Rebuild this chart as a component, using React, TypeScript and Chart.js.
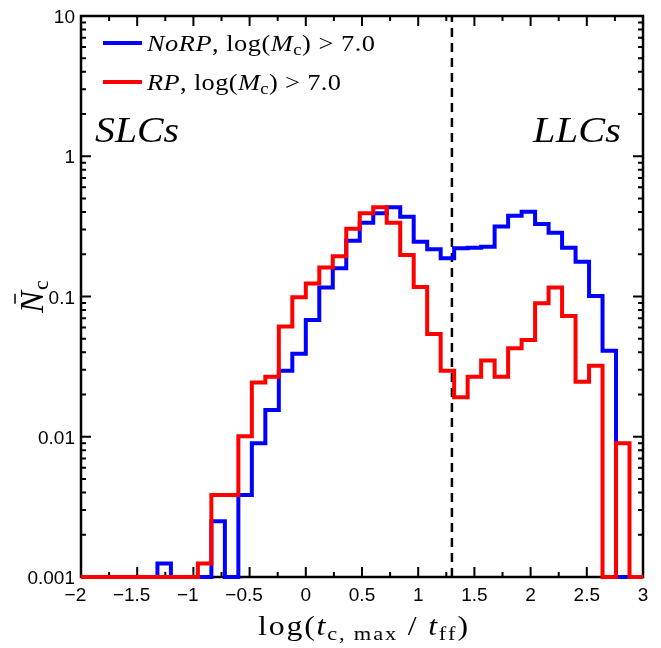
import React, { useEffect, useRef } from 'react';
import { Chart, registerables } from 'chart.js';

Chart.register(...registerables);

// ---------- data ----------
const BIN_LEFT_EDGES = [
  -2.04, -1.92, -1.8, -1.68, -1.56, -1.44, -1.32, -1.2, -1.08, -0.96, -0.84, -0.72, -0.6, -0.48,
  -0.36, -0.24, -0.12, 0, 0.12, 0.24, 0.36, 0.48, 0.6, 0.72, 0.84, 0.96, 1.08, 1.2, 1.32, 1.44,
  1.56, 1.68, 1.8, 1.92, 2.04, 2.16, 2.28, 2.4, 2.52, 2.64, 2.76, 2.88,
];
const LAST_BIN_RIGHT_EDGE = 3.0;

const NORP_VALUES = [
  0, 0, 0, 0, 0, 0, 0.00125, 0, 0, 0, 0.0025, 0, 0.00385, 0.009,
  0.0155, 0.0296, 0.039, 0.068, 0.116, 0.159, 0.25, 0.336, 0.392, 0.433, 0.371, 0.246, 0.217, 0.187, 0.221, 0.223,
  0.226, 0.315, 0.377, 0.402, 0.329, 0.285, 0.223, 0.177, 0.101, 0.041, 0, 0,
];
const RP_VALUES = [
  0, 0, 0, 0, 0, 0, 0, 0, 0, 0.00125, 0.00385, 0.00385, 0.0101, 0.0244,
  0.0268, 0.061, 0.0987, 0.124, 0.161, 0.194, 0.304, 0.392, 0.433, 0.336, 0.198, 0.117, 0.054, 0.0296, 0.0191, 0.0268,
  0.0349, 0.0268, 0.0427, 0.049, 0.0894, 0.116, 0.0726, 0.0247, 0.0321, 0, 0.009, 0,
];

const Y_FLOOR = 0.001;
const Y_CEIL = 10;
const X_MIN = -2;
const X_MAX = 3;
const DIVIDER_X = 1.3;

const X_TICKS = [-2, -1.5, -1, -0.5, 0, 0.5, 1, 1.5, 2, 2.5, 3];
const X_TICK_LABELS = ['−2', '−1.5', '−1', '−0.5', '0', '0.5', '1', '1.5', '2', '2.5', '3'];
const Y_TICKS = [0.001, 0.01, 0.1, 1, 10];
const Y_TICK_LABELS = ['0.001', '0.01', '0.1', '1', '10'];

const BLUE = '#0000ff';
const RED = '#ff0000';

// ---------- helpers ----------
type Seg = { t: string; f: string; dy?: number };

const SERIF = '"Liberation Serif", "Times New Roman", serif';
const SANS = '"Liberation Sans", Arial, sans-serif';

function drawRich(
  ctx: CanvasRenderingContext2D,
  segs: Seg[],
  x: number,
  y: number,
  align: 'left' | 'center' | 'right',
  targetWidth?: number,
  maxStretch = 1.1
) {
  const chars: { c: string; f: string; dy: number; w: number }[] = [];
  for (const s of segs) {
    ctx.font = s.f;
    for (const c of Array.from(s.t)) {
      chars.push({ c, f: s.f, dy: s.dy || 0, w: ctx.measureText(c).width });
    }
  }
  const natural = chars.reduce((a, b) => a + b.w, 0);
  let sx = 1;
  let track = 0;
  if (targetWidth) {
    sx = Math.min(targetWidth / natural, maxStretch);
    const rem = targetWidth - natural * sx;
    track = chars.length > 1 ? rem / (chars.length - 1) : 0;
  }
  const total = targetWidth || natural;
  let x0 = x;
  if (align === 'center') x0 = x - total / 2;
  else if (align === 'right') x0 = x - total;
  ctx.save();
  ctx.textAlign = 'left';
  ctx.textBaseline = 'alphabetic';
  let cx = x0;
  for (const ch of chars) {
    ctx.save();
    ctx.translate(cx, y + ch.dy);
    ctx.scale(sx, 1);
    ctx.font = ch.f;
    ctx.fillText(ch.c, 0, 0);
    ctx.restore();
    cx += ch.w * sx + track;
  }
  ctx.restore();
}

function histPoints(values: number[]) {
  const pts = BIN_LEFT_EDGES.map((x, i) => ({ x, y: Math.max(values[i], Y_FLOOR) }));
  pts.push({ x: LAST_BIN_RIGHT_EDGE, y: Math.max(values[values.length - 1], Y_FLOOR) });
  return pts;
}

const decorPlugin = {
  id: 'decor',
  beforeDatasetsDraw(chart: any) {
    const { ctx, chartArea } = chart;
    const xs = chart.scales.x;
    const ys = chart.scales.y;
    const { left, right, top, bottom } = chartArea;
    ctx.save();
    ctx.strokeStyle = '#000';
    ctx.lineWidth = 2.5;
    ctx.strokeRect(left, top, right - left, bottom - top);

    ctx.lineWidth = 2;
    const MAJ = 10;
    const MIN = 5;
    const xLine = (v: number, len: number) => {
      const p = xs.getPixelForValue(v);
      ctx.beginPath();
      ctx.moveTo(p, bottom);
      ctx.lineTo(p, bottom - len);
      ctx.moveTo(p, top);
      ctx.lineTo(p, top + len);
      ctx.stroke();
    };
    X_TICKS.forEach((v, i) => {
      xLine(v, MAJ);
      if (i < X_TICKS.length - 1) xLine((v + X_TICKS[i + 1]) / 2, MIN);
    });
    const yLine = (v: number, len: number) => {
      const p = ys.getPixelForValue(v);
      ctx.beginPath();
      ctx.moveTo(left, p);
      ctx.lineTo(left + len, p);
      ctx.moveTo(right, p);
      ctx.lineTo(right - len, p);
      ctx.stroke();
    };
    Y_TICKS.forEach((v, i) => {
      yLine(v, MAJ);
      if (i < Y_TICKS.length - 1) {
        for (let m = 2; m <= 9; m++) yLine(v * m, MIN);
      }
    });
    ctx.restore();
  },
  afterDraw(chart: any) {
    const { ctx, chartArea } = chart;
    const xs = chart.scales.x;
    const ys = chart.scales.y;
    ctx.save();
    ctx.fillStyle = '#000';

    // x tick labels (number centred on tick, minus hanging left)
    ctx.font = `19px ${SANS}`;
    ctx.textBaseline = 'alphabetic';
    X_TICKS.forEach((v, i) => {
      const p = xs.getPixelForValue(v);
      const lab = X_TICK_LABELS[i];
      const neg = lab.startsWith('−');
      const num = neg ? lab.slice(1) : lab;
      ctx.textAlign = 'center';
      ctx.fillText(num, p, 601);
      if (neg) {
        const w = ctx.measureText(num).width;
        ctx.textAlign = 'right';
        ctx.fillText('−', p - w / 2, 601);
      }
    });
    // y tick labels
    ctx.textAlign = 'right';
    Y_TICKS.forEach((v, i) => {
      const p = ys.getPixelForValue(v);
      ctx.fillText(Y_TICK_LABELS[i], chartArea.left - 6, p + 7);
    });

    // x axis title
    const R = `27px ${SERIF}`;
    const I = `italic 27px ${SERIF}`;
    const S = `19px ${SERIF}`;
    drawRich(
      ctx,
      [
        { t: 'log(', f: R },
        { t: 't', f: I },
        { t: 'c, max', f: S, dy: 5 },
        { t: ' / ', f: R },
        { t: 't', f: I },
        { t: 'ff', f: S, dy: 5 },
        { t: ')', f: R },
      ],
      363,
      635,
      'center',
      210,
      1.18
    );

    // y axis title (rotated)
    ctx.save();
    ctx.translate(43, 313);
    ctx.rotate(-Math.PI / 2);
    ctx.font = `italic 33px ${SERIF}`;
    ctx.textAlign = 'left';
    ctx.textBaseline = 'alphabetic';
    ctx.fillText('N', 0, 0);
    const nw = ctx.measureText('N').width;
    ctx.font = `22px ${SERIF}`;
    ctx.fillText('c', nw + 1, 5);
    ctx.lineWidth = 1.5;
    ctx.strokeStyle = '#000';
    ctx.beginPath();
    ctx.moveTo(nw * 0.42, -28);
    ctx.lineTo(nw * 0.88, -28);
    ctx.stroke();
    ctx.restore();

    // region labels
    drawRich(ctx, [{ t: 'SLCs', f: `italic 35px ${SERIF}` }], 95, 142, 'left', 84, 1.15);
    drawRich(ctx, [{ t: 'LLCs', f: `italic 35px ${SERIF}` }], 621, 142, 'right', 88, 1.15);

    // legend
    const R24 = `24px ${SERIF}`;
    const I24 = `italic 24px ${SERIF}`;
    const S17 = `17px ${SERIF}`;
    const legendRows = [
      { color: BLUE, y: 43, name: 'NoRP', w: 228 },
      { color: RED, y: 82, name: 'RP', w: 194 },
    ];
    legendRows.forEach((row) => {
      ctx.strokeStyle = row.color;
      ctx.lineWidth = 4;
      ctx.beginPath();
      ctx.moveTo(103, row.y);
      ctx.lineTo(142, row.y);
      ctx.stroke();
      ctx.fillStyle = '#000';
      drawRich(
        ctx,
        [
          { t: row.name, f: I24 },
          { t: ', log(', f: R24 },
          { t: 'M', f: I24 },
          { t: 'c', f: S17, dy: 4 },
          { t: ') > 7.0', f: R24 },
        ],
        147,
        row.y + 8,
        'left',
        row.w
      );
    });
    ctx.restore();
  },
};

export default function App() {
  const ref = useRef<HTMLCanvasElement | null>(null);
  useEffect(() => {
    if (!ref.current) return;
    const chart = new Chart(ref.current, {
      type: 'line',
      data: {
        datasets: [
          {
            label: 'divider',
            data: [
              { x: DIVIDER_X, y: Y_FLOOR },
              { x: DIVIDER_X, y: Y_CEIL },
            ],
            borderColor: '#000',
            borderWidth: 2.5,
            borderDash: [9, 6],
            pointRadius: 0,
            order: 3,
          },
          {
            label: 'NoRP, log(Mc) > 7.0',
            data: histPoints(NORP_VALUES),
            borderColor: BLUE,
            borderWidth: 4,
            pointRadius: 0,
            stepped: 'before',
            order: 2,
            clip: { left: 0, right: 0, top: 0, bottom: 4 },
          },
          {
            label: 'RP, log(Mc) > 7.0',
            data: histPoints(RP_VALUES),
            borderColor: RED,
            borderWidth: 4,
            pointRadius: 0,
            stepped: 'before',
            order: 1,
            clip: { left: 0, right: 0, top: 0, bottom: 4 },
          },
        ] as any,
      },
      options: {
        responsive: false,
        animation: false,
        parsing: false as any,
        layout: { padding: { top: 16, right: 18, left: 0, bottom: 0 } },
        plugins: { legend: { display: false }, tooltip: { enabled: false } },
        scales: {
          x: {
            type: 'linear',
            min: X_MIN,
            max: X_MAX,
            ticks: { display: false },
            grid: { display: false },
            border: { display: false },
            afterFit: (s: any) => {
              s.height = 71;
            },
          },
          y: {
            type: 'logarithmic',
            min: Y_FLOOR,
            max: Y_CEIL,
            ticks: { display: false },
            grid: { display: false },
            border: { display: false },
            afterFit: (s: any) => {
              s.width = 81;
            },
          },
        },
      } as any,
      plugins: [decorPlugin],
    });
    return () => chart.destroy();
  }, []);
  return (
    <div style={{ position: 'absolute', left: 0, top: 0, width: 661, height: 648, background: '#fff' }}>
      <canvas ref={ref} width={661} height={648} style={{ display: 'block' }} />
    </div>
  );
}
